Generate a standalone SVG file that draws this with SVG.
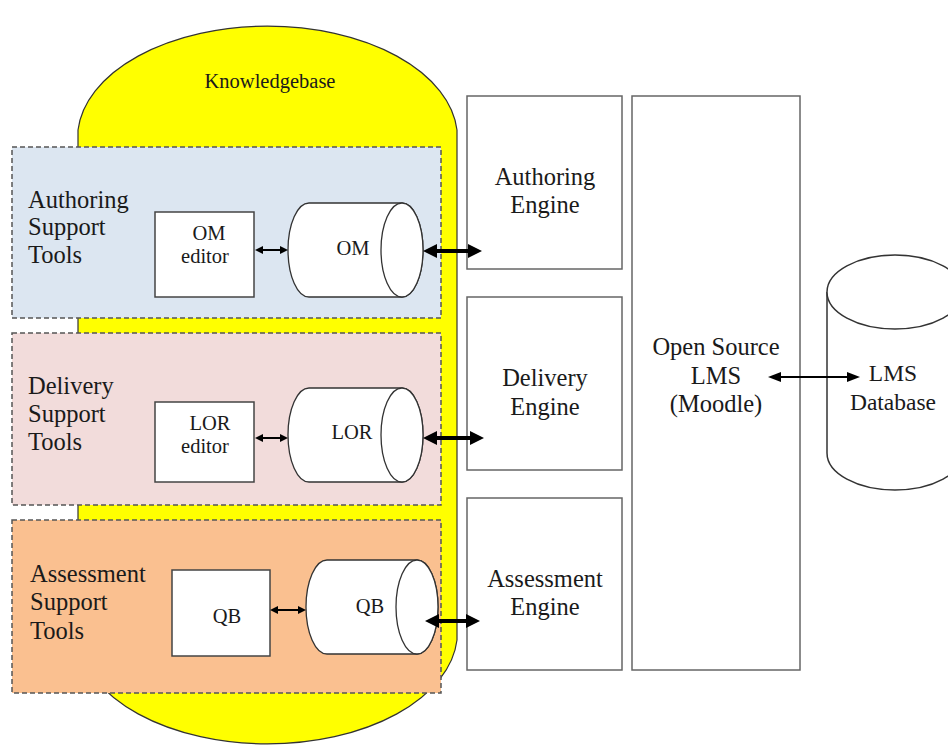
<svg xmlns="http://www.w3.org/2000/svg" width="948" height="751" viewBox="0 0 948 751" font-family="'Liberation Serif', 'DejaVu Serif', serif">
  <style>
    text { font-family: 'Liberation Serif', 'DejaVu Serif', 'Noto Serif', serif; fill: #1a1a1a; }
    .lbl { font-size: 24.5px; }
    .mid { text-anchor: middle; }
    .sm { font-size: 20.5px; text-anchor: middle; }
    .tool { stroke: #555; stroke-width: 1.5; stroke-dasharray: 5 3; }
    .box { fill: #fff; stroke: #666; stroke-width: 1.5; }
    .cyl { fill: #fff; stroke: #333; stroke-width: 1.3; }
    .conn { stroke: #000; fill: none; }
  </style>
  <defs>
    <marker id="headBig" viewBox="0 0 14 14" markerWidth="14" markerHeight="14" refX="2" refY="7" markerUnits="userSpaceOnUse" orient="auto-start-reverse">
      <path d="M0,0 L14,7 L0,14 Z" fill="#000"/>
    </marker>
    <marker id="headSmall" viewBox="0 0 8 8" markerWidth="8" markerHeight="8" refX="1" refY="4" markerUnits="userSpaceOnUse" orient="auto-start-reverse">
      <path d="M0,0 L8,4 L0,8 Z" fill="#000"/>
    </marker>
    <marker id="headMid" viewBox="0 0 13 10" markerWidth="13" markerHeight="10" refX="1" refY="5" markerUnits="userSpaceOnUse" orient="auto-start-reverse">
      <path d="M0,0 L13,5 L0,10 Z" fill="#000"/>
    </marker>
  </defs>

  <rect width="948" height="751" fill="#fff"/>

  <!-- Knowledgebase: large upright cylinder behind the tool panels -->
  <g id="knowledgebase">
    <path d="M78,130 A190,112 0 0 1 457,130 L457,640 A190,112 0 0 1 78,640 Z" fill="#ffff00" stroke="#333" stroke-width="1.2"/>
    <text x="270" y="88" class="mid" style="font-size:20.5px">Knowledgebase</text>
  </g>

  <!-- Tool panels -->
  <g id="authoring-tools">
    <rect x="12" y="147" width="429" height="171" fill="#dce6f1" class="tool"/>
    <text class="lbl" x="28" y="208">Authoring</text>
    <text class="lbl" x="28" y="235">Support</text>
    <text class="lbl" x="28" y="263">Tools</text>
  </g>
  <g id="delivery-tools">
    <rect x="12" y="333" width="429" height="172" fill="#f2dcdb" class="tool"/>
    <text class="lbl" x="28" y="394">Delivery</text>
    <text class="lbl" x="28" y="422">Support</text>
    <text class="lbl" x="28" y="450">Tools</text>
  </g>
  <g id="assessment-tools">
    <rect x="12" y="520" width="429" height="173" fill="#fac090" class="tool"/>
    <text class="lbl" x="30" y="582">Assessment</text>
    <text class="lbl" x="30" y="610">Support</text>
    <text class="lbl" x="30" y="639">Tools</text>
  </g>

  <!-- Editors -->
  <g id="om-editor">
    <rect x="155" y="212" width="99" height="85" class="box" style="stroke:#444"/>
    <text class="sm" x="209" y="240">OM</text>
    <text class="sm" x="205" y="263">editor</text>
  </g>
  <g id="lor-editor">
    <rect x="155" y="402" width="99" height="80" class="box" style="stroke:#444"/>
    <text class="sm" x="210" y="430">LOR</text>
    <text class="sm" x="205" y="453">editor</text>
  </g>
  <g id="qb-editor">
    <rect x="172" y="570" width="98" height="86" class="box" style="stroke:#444"/>
    <text class="sm" x="227" y="623">QB</text>
  </g>

  <!-- Repositories (horizontal cylinders) -->
  <g id="om-store">
    <path d="M309,203 L402,203 A21,47 0 0 1 402,297 L309,297 A21,47 0 0 1 309,203 Z" class="cyl"/>
    <ellipse cx="402" cy="250" rx="21" ry="47" class="cyl"/>
    <text class="sm" x="353" y="255">OM</text>
  </g>
  <g id="lor-store">
    <path d="M309,388 L402,388 A21,47 0 0 1 402,482 L309,482 A21,47 0 0 1 309,388 Z" class="cyl"/>
    <ellipse cx="402" cy="435" rx="21" ry="47" class="cyl"/>
    <text class="sm" x="352" y="439">LOR</text>
  </g>
  <g id="qb-store">
    <path d="M327,560 L417,560 A21,47 0 0 1 417,654 L327,654 A21,47 0 0 1 327,560 Z" class="cyl"/>
    <ellipse cx="417" cy="607" rx="21" ry="47" class="cyl"/>
    <text class="sm" x="370" y="613">QB</text>
  </g>

  <!-- Engines -->
  <g id="authoring-engine">
    <rect x="467" y="96" width="155" height="173" class="box"/>
    <text class="lbl mid" x="545" y="185">Authoring</text>
    <text class="lbl mid" x="545" y="213">Engine</text>
  </g>
  <g id="delivery-engine">
    <rect x="467" y="297" width="155" height="173" class="box"/>
    <text class="lbl mid" x="545" y="386">Delivery</text>
    <text class="lbl mid" x="545" y="415">Engine</text>
  </g>
  <g id="assessment-engine">
    <rect x="467" y="498" width="155" height="172" class="box"/>
    <text class="lbl mid" x="545" y="587">Assessment</text>
    <text class="lbl mid" x="545" y="615">Engine</text>
  </g>

  <!-- LMS -->
  <g id="lms">
    <rect x="632" y="96" width="168" height="574" class="box"/>
    <text class="lbl mid" x="716" y="355">Open Source</text>
    <text class="lbl mid" x="716" y="384">LMS</text>
    <text class="lbl mid" x="716" y="412">(Moodle)</text>
  </g>
  <g id="lms-database">
    <path d="M827,292 L827,453 A68,37 0 0 0 963,453 L963,292" class="cyl" style="stroke-width:1.5"/>
    <ellipse cx="895" cy="292" rx="68" ry="37" class="cyl" style="stroke-width:1.5"/>
    <text class="mid" style="font-size:23.5px" x="893" y="381">LMS</text>
    <text class="mid" style="font-size:23.5px" x="893" y="410">Database</text>
  </g>

  <!-- Connectors -->
  <g id="connectors">
    <line x1="262" y1="250" x2="281" y2="250" class="conn" stroke-width="2" marker-start="url(#headSmall)" marker-end="url(#headSmall)"/>
    <line x1="262" y1="438" x2="281" y2="438" class="conn" stroke-width="2" marker-start="url(#headSmall)" marker-end="url(#headSmall)"/>
    <line x1="277" y1="610" x2="299" y2="610" class="conn" stroke-width="2" marker-start="url(#headSmall)" marker-end="url(#headSmall)"/>
    <line x1="435" y1="251" x2="470" y2="251" class="conn" stroke-width="4" marker-start="url(#headBig)" marker-end="url(#headBig)"/>
    <line x1="435" y1="438" x2="472" y2="438" class="conn" stroke-width="4" marker-start="url(#headBig)" marker-end="url(#headBig)"/>
    <line x1="437" y1="621" x2="468" y2="621" class="conn" stroke-width="4" marker-start="url(#headBig)" marker-end="url(#headBig)"/>
    <line x1="780" y1="377" x2="848" y2="377" class="conn" stroke-width="1.8" marker-start="url(#headMid)" marker-end="url(#headMid)"/>
  </g>
</svg>
